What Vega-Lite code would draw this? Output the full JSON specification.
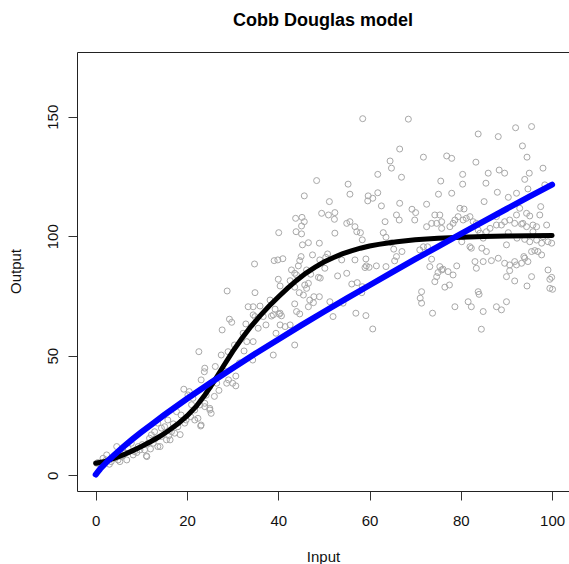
{
  "$schema": "https://vega.github.io/schema/vega-lite/v6.json",
  "autosize": "none",
  "width": 492,
  "height": 439,
  "padding": {"left": 77, "top": 52, "right": 0, "bottom": 73},
  "background": "white",
  "title": {"text": "Cobb Douglas model", "font": "Liberation Sans", "fontSize": 18, "fontWeight": "bold", "color": "black", "anchor": "middle", "baseline": "alphabetic", "offset": 8},
  "datasets": {
    "pts": [
      {"x":28.8,"y":77.1},{"x":29.3,"y":65.3},{"x":29.8,"y":64},{"x":27.7,"y":60.8},{"x":30.4,"y":54.5},{"x":29,"y":51.7},{"x":27.5,"y":50.3},{"x":22.6,"y":51.7},{"x":34.4,"y":48.2},{"x":23.9,"y":44.8},
      {"x":23.8,"y":43.3},{"x":28.3,"y":43.4},{"x":29.1,"y":39.9},{"x":30,"y":38.5},{"x":30.7,"y":41.5},{"x":30.7,"y":37.4},{"x":23.1,"y":39.9},{"x":25.3,"y":38.5},{"x":25,"y":37.1},{"x":19.3,"y":36},
      {"x":20.2,"y":33.6},{"x":21.3,"y":32.2},{"x":23.9,"y":30.1},{"x":25,"y":28},{"x":25.3,"y":25.9},{"x":21.7,"y":27.3},{"x":23,"y":20.6},{"x":17.7,"y":26.6},{"x":18.7,"y":25.2},{"x":17.3,"y":17.6},
      {"x":15.8,"y":23.1},{"x":15.1,"y":20.3},{"x":13.6,"y":21.8},{"x":14.4,"y":19.7},{"x":12.9,"y":18.2},{"x":12.2,"y":16.9},{"x":11.8,"y":15.5},{"x":11.5,"y":13.4},{"x":13.6,"y":12},{"x":10.7,"y":10.6},
      {"x":11.1,"y":8.1},{"x":9.3,"y":12},{"x":8.5,"y":9.9},{"x":7.8,"y":13.4},{"x":7.1,"y":11.3},{"x":6.4,"y":9.2},{"x":5.6,"y":7.8},{"x":4.9,"y":6.4},{"x":4.2,"y":7.1},{"x":3.4,"y":5.7},
      {"x":2.3,"y":6.4},{"x":1.6,"y":7.1},{"x":0.5,"y":5.3},{"x":14.4,"y":16.2},{"x":15.5,"y":14.8},{"x":16.6,"y":18.2},{"x":18,"y":20.3},{"x":19.5,"y":21.8},{"x":19.8,"y":23.1},{"x":21.7,"y":23.1},
      {"x":22.4,"y":23.8},{"x":23.1,"y":21},{"x":23.9,"y":28.7},{"x":25,"y":27.3},{"x":20.5,"y":35},{"x":22.8,"y":29.4},{"x":26.5,"y":38.5},{"x":28.7,"y":38.5},{"x":16.3,"y":14.8},{"x":14.1,"y":12},
      {"x":11.2,"y":7.8},{"x":12.6,"y":13.4},{"x":9.7,"y":10.6},{"x":8.2,"y":8.5},{"x":6.8,"y":6.4},{"x":5.3,"y":5.7},{"x":4.6,"y":12},{"x":2.4,"y":8.5},{"x":0.2,"y":5},{"x":9,"y":9.5},
      {"x":10.2,"y":12.8},{"x":13,"y":15.2},{"x":17,"y":21.5},{"x":18.5,"y":17},{"x":20.8,"y":24.5},{"x":3,"y":4.6},{"x":1,"y":4.5},{"x":6,"y":8.2},{"x":26,"y":33},{"x":27,"y":35.5},
      {"x":24.2,"y":33.5},{"x":21,"y":29.5},{"x":31.5,"y":47},{"x":32.5,"y":52},{"x":26.2,"y":45.5},{"x":12,"y":11},{"x":16,"y":16.5},
      {"x":48.4,"y":123.3},{"x":55.3,"y":121.8},{"x":61.8,"y":125.9},{"x":64.8,"y":128.5},{"x":64.5,"y":131.5},{"x":67,"y":124.7},{"x":45.7,"y":116.9},{"x":51.2,"y":114.5},{"x":55.7,"y":117.6},{"x":59.7,"y":116.9},
      {"x":59.6,"y":114.8},{"x":60.7,"y":115.9},{"x":61.8,"y":118.2},{"x":62.6,"y":112.7},{"x":66.6,"y":113.8},{"x":69.3,"y":111.3},{"x":70.1,"y":109.9},{"x":69.9,"y":106.8},{"x":49.5,"y":109.6},{"x":51,"y":108.9},
      {"x":52.4,"y":109.9},{"x":52.3,"y":107.1},{"x":43.8,"y":107.5},{"x":45.2,"y":107.9},{"x":45.7,"y":106.1},{"x":45.1,"y":104.3},{"x":40.1,"y":101.5},{"x":43.9,"y":101.9},{"x":45.1,"y":101},{"x":45.3,"y":96.4},
      {"x":46.6,"y":97.3},{"x":49,"y":97.1},{"x":52.4,"y":101.3},{"x":55,"y":105.4},{"x":55.7,"y":106.1},{"x":56.8,"y":104},{"x":58,"y":101.5},{"x":58.4,"y":98.5},{"x":57.2,"y":101.9},{"x":63.4,"y":106.1},
      {"x":65.9,"y":108.9},{"x":66.5,"y":106.8},{"x":63,"y":101.5},{"x":63.6,"y":99.6},{"x":64.8,"y":97.3},{"x":65.3,"y":94.6},{"x":67.1,"y":93.6},{"x":65.9,"y":91.5},{"x":65.5,"y":89.7},{"x":34.8,"y":88.4},
      {"x":39.1,"y":89.8},{"x":39.9,"y":90.1},{"x":41,"y":90.6},{"x":45,"y":91.5},{"x":44.7,"y":89.8},{"x":47.5,"y":92.2},{"x":49.1,"y":90.1},{"x":50.8,"y":92.6},{"x":50.4,"y":91.2},{"x":53.9,"y":90.1},
      {"x":56.8,"y":90.1},{"x":59.2,"y":90.5},{"x":59.3,"y":87.6},{"x":59,"y":86.9},{"x":59.9,"y":87},{"x":61.5,"y":87.6},{"x":63.6,"y":87.3},{"x":42.9,"y":85.9},{"x":44.4,"y":87.6},{"x":43.6,"y":84.5},
      {"x":44,"y":83.8},{"x":46.2,"y":85.9},{"x":47.1,"y":84.1},{"x":48.8,"y":82.8},{"x":49.2,"y":82.5},{"x":50.2,"y":86.6},{"x":53,"y":83.4},{"x":55,"y":84.5},{"x":40,"y":82},{"x":40.4,"y":79.2},
      {"x":42.6,"y":81.4},{"x":43.6,"y":78.7},{"x":45.8,"y":79.6},{"x":46.6,"y":80.3},{"x":46.2,"y":78.2},{"x":44.6,"y":76.4},{"x":45.5,"y":75.4},{"x":34.9,"y":76.4},{"x":34.5,"y":70.5},{"x":36,"y":70.8},
      {"x":33.4,"y":70.5},{"x":38.2,"y":73.3},{"x":39.3,"y":69.5},{"x":40.4,"y":67.8},{"x":38.5,"y":66.6},{"x":36.7,"y":66.4},{"x":37.3,"y":62.9},{"x":34.5,"y":67.1},{"x":34.9,"y":66.4},{"x":32.9,"y":63.3},
      {"x":32.3,"y":59.4},{"x":34.5,"y":55.9},{"x":33.1,"y":55.9},{"x":35.6,"y":61.5},{"x":38.9,"y":67.1},{"x":40.2,"y":67.4},{"x":40.7,"y":66.7},{"x":43.6,"y":71.7},{"x":44,"y":68.5},{"x":44.7,"y":67.5},
      {"x":46.6,"y":70.5},{"x":46.9,"y":73.3},{"x":47.8,"y":74.7},{"x":49,"y":74.7},{"x":47.7,"y":72.2},{"x":43.6,"y":54.5},{"x":38.9,"y":50.3},{"x":39.5,"y":59.4},{"x":41.5,"y":62.2},{"x":40.4,"y":62.9},
      {"x":42.6,"y":62.9},{"x":51.3,"y":72.6},{"x":52,"y":66.4},{"x":54.2,"y":72},{"x":56.1,"y":80},{"x":57.3,"y":80.6},{"x":58.4,"y":78.9},{"x":58.3,"y":76.4},{"x":57,"y":67.8},{"x":59.2,"y":66.8},
      {"x":60.7,"y":61.2},{"x":58.5,"y":149.2},{"x":68.5,"y":149},{"x":66.6,"y":136.5},
      {"x":83.8,"y":142.8},{"x":88.2,"y":141.7},{"x":92,"y":145.4},{"x":95.5,"y":145.9},{"x":93.5,"y":137.8},{"x":94.5,"y":133.1},{"x":71.8,"y":133.1},{"x":76.9,"y":133.6},{"x":78,"y":132.6},{"x":83.3,"y":131},
      {"x":98,"y":128.5},{"x":75.6,"y":123.1},{"x":80.4,"y":125.9},{"x":80.4,"y":121.8},{"x":86,"y":126.4},{"x":88.4,"y":127.7},{"x":89.6,"y":126.4},{"x":85.5,"y":122.2},{"x":94,"y":123.8},{"x":95,"y":126.4},
      {"x":75.1,"y":117.6},{"x":78,"y":118},{"x":88,"y":118.4},{"x":90.4,"y":116.3},{"x":92.2,"y":118},{"x":94.7,"y":119.8},{"x":98.4,"y":121.5},
      {"x":85.1,"y":114.5},{"x":72.5,"y":113.4},{"x":79.8,"y":111.7},{"x":80.7,"y":111.4},{"x":97.5,"y":112.4},{"x":74.3,"y":108.9},{"x":75.4,"y":108.9},{"x":78.3,"y":105.4},{"x":80.5,"y":106.8},{"x":82,"y":108.2},
      {"x":82.7,"y":106.1},{"x":72.5,"y":104},{"x":73.6,"y":105.4},{"x":75.8,"y":106.1},{"x":87.8,"y":108.2},{"x":89.6,"y":106.1},{"x":88.9,"y":104.7},{"x":91.8,"y":105.4},{"x":92.9,"y":111.7},{"x":94.4,"y":109.6},
      {"x":97.3,"y":108.9},{"x":95.8,"y":104.7},{"x":93.6,"y":105.4},{"x":83.8,"y":102.6},{"x":85.6,"y":101.9},{"x":90.4,"y":101.5},{"x":95.8,"y":101.9},{"x":98.8,"y":104.7},{"x":96.6,"y":104},
      {"x":77.6,"y":104},{"x":78.7,"y":106.8},{"x":79.4,"y":108.2},{"x":81.2,"y":107.5},{"x":83.4,"y":105.4},{"x":84.2,"y":101.3},{"x":80.5,"y":99.8},{"x":84.9,"y":99.2},{"x":86.4,"y":103.3},{"x":87.8,"y":104.7},
      {"x":90.7,"y":106.8},{"x":92.2,"y":108.9},{"x":93.3,"y":105.1},{"x":95.1,"y":108.5},{"x":94.4,"y":104},{"x":74.7,"y":105.4},{"x":75.8,"y":103.3},
      {"x":71,"y":94.3},{"x":71.8,"y":95.6},{"x":73.6,"y":90.4},{"x":80.2,"y":97.7},{"x":82,"y":95.6},{"x":82.3,"y":95},{"x":84.6,"y":95},{"x":85.6,"y":93.6},{"x":90,"y":96.4},{"x":92.3,"y":99.2},
      {"x":95.1,"y":97.7},{"x":96.6,"y":98.4},{"x":97.7,"y":97.1},{"x":99.1,"y":97.7},{"x":99.9,"y":97.1},{"x":98,"y":99.8},{"x":79.1,"y":87.6},{"x":75.4,"y":87.3},{"x":75.8,"y":85.9},{"x":76.1,"y":86.2},
      {"x":75,"y":84.8},{"x":74.7,"y":83.1},{"x":74.3,"y":81},{"x":76.5,"y":78.7},{"x":77.5,"y":79.6},{"x":78.3,"y":83.8},{"x":77.2,"y":85.2},{"x":83.1,"y":89.4},{"x":83.4,"y":86.6},{"x":84.9,"y":89.4},
      {"x":86.7,"y":89.8},{"x":88.2,"y":90.8},{"x":89.6,"y":88.7},{"x":90.7,"y":88},{"x":90.7,"y":85.6},{"x":91.8,"y":89.4},{"x":92.2,"y":88},{"x":93.3,"y":88.7},{"x":94,"y":90.8},{"x":94.7,"y":89.4},
      {"x":95.5,"y":93.6},{"x":96.2,"y":94},{"x":96.9,"y":93.6},{"x":97.7,"y":92.2},{"x":95.5,"y":83.1},{"x":91.8,"y":81.3},{"x":90,"y":83.1},{"x":99.1,"y":85.9},{"x":99.5,"y":82},{"x":99.9,"y":82.8},
      {"x":99.5,"y":78.2},{"x":100.1,"y":77.8},{"x":71.4,"y":76.8},{"x":71.1,"y":74.1},{"x":71.4,"y":72},{"x":73.8,"y":67.8},{"x":78.7,"y":70.5},{"x":81.6,"y":72.6},{"x":82.3,"y":70.5},{"x":83.8,"y":76.8},
      {"x":84,"y":75.7},{"x":84.9,"y":68.5},{"x":87.8,"y":70.5},{"x":88.9,"y":69.2},{"x":90,"y":72.6},{"x":84.5,"y":61.1},{"x":72.7,"y":95.6},{"x":73.2,"y":87.3},{"x":93.8,"y":91.5},{"x":94.5,"y":79.2},
      {"x":94,"y":98.7}
    ],
    "black": [
      {"x":0,"y":5},{"x":2,"y":5.8},{"x":4,"y":7},{"x":6,"y":8.5},{"x":8,"y":10.2},{"x":10,"y":12},{"x":12,"y":14},{"x":14,"y":16.2},{"x":16,"y":18.7},{"x":18,"y":21.5},
      {"x":20,"y":24.8},{"x":22,"y":28.8},{"x":24,"y":33.8},{"x":26,"y":39.5},{"x":28,"y":45.7},{"x":30,"y":51.7},{"x":32,"y":57.2},{"x":34,"y":62.2},{"x":36,"y":66.7},{"x":38,"y":70.8},
      {"x":40,"y":74.6},{"x":42,"y":78.2},{"x":44,"y":81.5},{"x":46,"y":84.5},{"x":48,"y":87},{"x":50,"y":89.2},{"x":52,"y":91},{"x":54,"y":92.6},{"x":56,"y":93.9},{"x":58,"y":95},
      {"x":60,"y":95.9},{"x":62,"y":96.6},{"x":64,"y":97.2},{"x":66,"y":97.7},{"x":68,"y":98.1},{"x":70,"y":98.5},{"x":75,"y":99.2},{"x":80,"y":99.6},{"x":85,"y":99.9},{"x":90,"y":100.1},
      {"x":95,"y":100.2},{"x":100,"y":100.3}
    ],
    "blue": [
      {"x":0,"y":0.3},{"x":0.5,"y":1.5},{"x":1,"y":2.7},{"x":2,"y":4.7},{"x":3,"y":6.6},{"x":4,"y":8.4},{"x":6,"y":11.8},{"x":8,"y":15},{"x":10,"y":18},{"x":12.5,"y":21.6},
      {"x":15,"y":25.2},{"x":20,"y":32},{"x":25,"y":38.5},{"x":30,"y":44.8},{"x":35,"y":50.9},{"x":40,"y":56.8},{"x":45,"y":62.7},{"x":50,"y":68.4},{"x":55,"y":74},{"x":60,"y":79.5},
      {"x":65,"y":85},{"x":70,"y":90.4},{"x":75,"y":95.7},{"x":80,"y":101},{"x":85,"y":106.2},{"x":90,"y":111.4},{"x":95,"y":116.6},{"x":100,"y":121.6}
    ]
  },
  "layer": [
    {
      "data": {"name": "pts"},
      "mark": {"type": "point", "shape": "circle", "filled": false, "color": "#a8a8a8", "size": 36, "strokeWidth": 1, "opacity": 1},
      "encoding": {
        "x": {"field": "x", "type": "quantitative", "scale": {"domain": [-4.1, 103.7], "nice": false, "zero": false},
          "axis": {"orient": "bottom", "values": [0, 20, 40, 60, 80, 100], "title": "Input", "grid": false,
            "domainColor": "#222", "tickColor": "#333", "tickSize": 9, "labelPadding": 25, "labelBaseline": "alphabetic",
            "labelFont": "Liberation Sans", "labelFontSize": 15, "labelColor": "#111",
            "titleFont": "Liberation Sans", "titleFontSize": 15, "titleFontWeight": "normal", "titleColor": "#111", "titleBaseline": "alphabetic", "titleY": 70.5}},
        "y": {"field": "y", "type": "quantitative", "scale": {"domain": [-6.6, 177.1], "nice": false, "zero": false},
          "axis": {"orient": "left", "values": [0, 50, 100, 150], "title": "Output", "grid": false,
            "domainColor": "#222", "tickColor": "#333", "tickSize": 9, "labelAngle": -90, "labelAlign": "center", "labelBaseline": "alphabetic", "labelPadding": 11,
            "labelFont": "Liberation Sans", "labelFontSize": 15, "labelColor": "#111",
            "titleFont": "Liberation Sans", "titleFontSize": 15, "titleFontWeight": "normal", "titleColor": "#111", "titleAngle": -90, "titleBaseline": "alphabetic", "titleX": -56.5, "titleY": 219}}
      }
    },
    {
      "data": {"name": "black"},
      "mark": {"type": "line", "color": "black", "strokeWidth": 5, "strokeCap": "round"},
      "encoding": {
        "x": {"field": "x", "type": "quantitative", "axis": {"orient": "top", "labels": false, "ticks": false, "title": null, "grid": false, "domainColor": "#222"}},
        "y": {"field": "y", "type": "quantitative"}
      }
    },
    {
      "data": {"name": "blue"},
      "mark": {"type": "line", "color": "#0000ff", "strokeWidth": 6, "strokeCap": "round"},
      "encoding": {
        "x": {"field": "x", "type": "quantitative", "axis": null},
        "y": {"field": "y", "type": "quantitative"}
      }
    }
  ],
  "resolve": {"axis": {"x": "independent"}},
  "config": {"view": {"stroke": null}, "axis": {"grid": false}}
}
